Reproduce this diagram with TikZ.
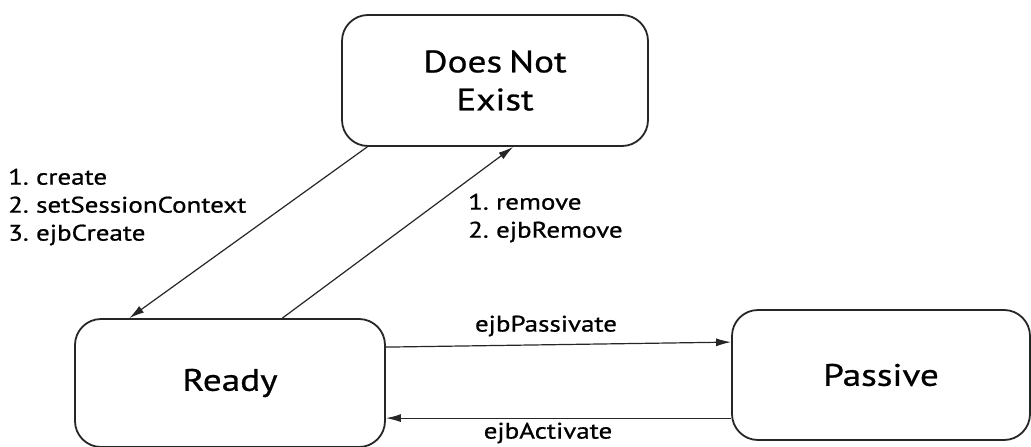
\documentclass[tikz,border=0pt]{standalone}
\usepackage{fontspec}
\setmainfont{PT Sans}[FakeStretch=1.2,WordSpace=0.7,RawFeature={embolden=0.8}]
\usetikzlibrary{arrows.meta,calc}

\tikzset{
  state/.style={draw=black!85,line width=1.8pt,rounded corners=26pt,
    minimum width=#1,align=center,font=\fontsize{31}{38}\selectfont,text=black},
  trans/.style={draw=black!85,line width=1.2pt,-{Latex[length=15pt,width=8pt]}},
  lbl/.style={font=\fontsize{22.5}{28}\selectfont,text=black,inner sep=0pt}
}

\begin{document}
\begin{tikzpicture}[x=1pt,y=-1pt]
  \useasboundingbox (0,0) rectangle (1031,447);
  % states
  \node[state=306pt,minimum height=131pt] (dne) at (495,80.5) {Does Not\\Exist};
  \node[state=310pt,minimum height=128pt] (ready) at (230,383) {Ready};
  \node[state=298pt,minimum height=130pt] (passive) at (881,375) {Passive};
  % transitions
  \draw[trans] ($(dne.south west)!.085!(dne.south east)$) -- ($(ready.north west)!.177!(ready.north east)$);
  \draw[trans] ($(ready.north west)!.668!(ready.north east)$) -- ($(dne.south west)!.559!(dne.south east)$);
  \draw[trans] ($(ready.north east)+(0,29)$) -- ($(passive.north west)+(0,33)$);
  \draw[trans] ($(passive.north west)+(0,109)$) -- ($(ready.north east)+(0,100)$);
  % labels
  \node[lbl,anchor=west,align=left] (lcreate) at (8,207) {1. create\\2. setSessionContext\\3. ejbCreate};
  \node[lbl,anchor=west,align=left] (lremove) at (468,218) {1. remove\\2. ejbRemove};
  \node[lbl] (lpass) at (546,326) {ejbPassivate};
  \node[lbl] (lact) at (548,433) {ejbActivate};
\end{tikzpicture}
\end{document}
